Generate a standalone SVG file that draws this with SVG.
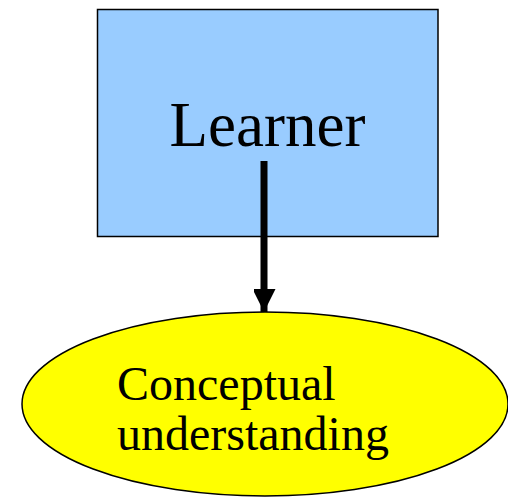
<svg xmlns="http://www.w3.org/2000/svg" width="508" height="499" viewBox="0 0 508 499">
<style>
.t{font-family:"Liberation Serif","Times New Roman",serif;fill:#000}
</style>
<defs>
<marker id="ah" markerUnits="userSpaceOnUse" markerWidth="24" markerHeight="22" refX="23" refY="11.5" orient="auto">
<path d="M0,0 L23,11.5 L0,23 Z" fill="#000"/>
</marker>
</defs>
<rect width="508" height="499" fill="#fff"/>
<g id="learner">
<rect x="97.5" y="9.5" width="340.5" height="227" fill="#99CCFF" stroke="#000" stroke-width="1.5"/>
<text class="t" x="267.5" y="145.5" font-size="63" text-anchor="middle">Learner</text>
</g>
<g id="conceptual">
<ellipse cx="265" cy="404" rx="243" ry="92" fill="#FFFF00" stroke="#000" stroke-width="1.5"/>
<text class="t" x="117" y="399.5" font-size="48">Conceptual</text>
<text class="t" x="117" y="449.5" font-size="48">understanding</text>
</g>
<g id="connectors">
<line x1="264" y1="161" x2="264" y2="312" stroke="#000" stroke-width="7" marker-end="url(#ah)"/>
</g>
</svg>
